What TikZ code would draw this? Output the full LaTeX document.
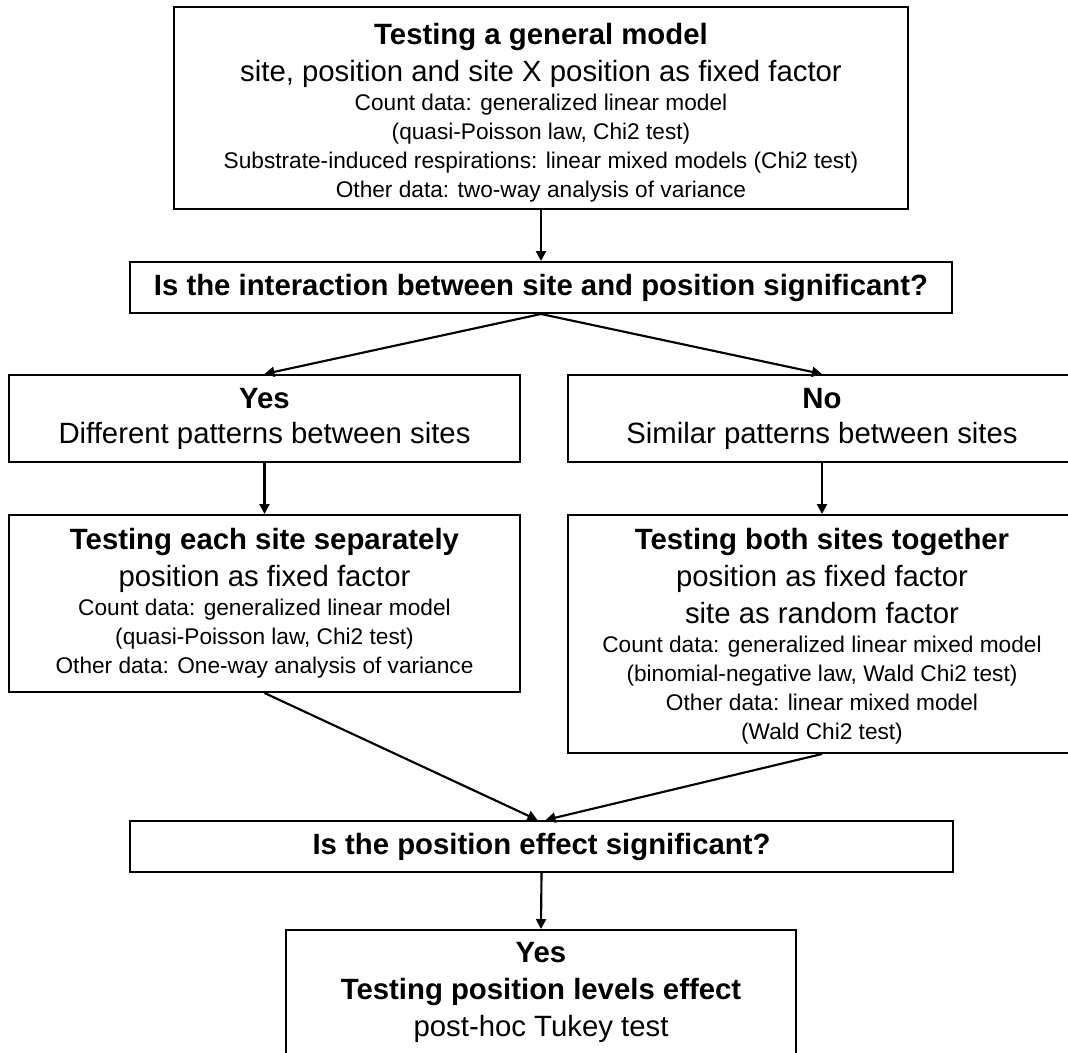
\documentclass[tikz,border=0pt]{standalone}
\usepackage{fontspec}
\setmainfont{Liberation Sans}
\usetikzlibrary{arrows.meta}
\newcommand{\bigbf}[1]{{\fontsize{22}{22}\selectfont\bfseries #1}}
\newcommand{\bigrm}[1]{{\fontsize{22}{22}\selectfont #1}}
\begin{document}
\begin{tikzpicture}[x=0.75pt,y=-0.75pt,
  box/.style={draw, line width=1.5pt, align=center, inner sep=0pt,
    font=\fontsize{17}{21.75}\selectfont},
  arr/.style={line width=1.6pt, -{Triangle[length=7.5pt,width=7.5pt]}}]
\useasboundingbox[fill=white] (0,0) rectangle (1068,1053);

\node[box, minimum width=550.5pt, minimum height=151.5pt] (top) at (541,108)
  {\bigbf{\rule{0pt}{23.5pt}Testing a general model}\\[6pt]
   \bigrm{site, position and site X position as fixed factor}\\
   Count data: generalized linear model\\
   (quasi-Poisson law, Chi2 test)\\
   Substrate-induced respirations: linear mixed models (Chi2 test)\\
   Other data: two-way analysis of variance};

\node[box, minimum width=616.5pt, minimum height=38.25pt] (q1) at (541,287.5)
  {\bigbf{Is the interaction between site and position significant?}};

\node[box, minimum width=383.25pt, minimum height=65.25pt] (yes) at (264.5,418.5)
  {\bigbf{Yes}\\[4.5pt]\bigrm{Different patterns between sites}};

\node[box, minimum width=381pt, minimum height=65.25pt] (no) at (822,418.5)
  {\bigbf{No}\\[4.5pt]\bigrm{Similar patterns between sites}};

\node[box, minimum width=383.25pt, minimum height=132.75pt] (each) at (264.5,603.5)
  {\bigbf{Testing each site separately}\\[6pt]
   \bigrm{position as fixed factor}\\
   Count data: generalized linear model\\
   (quasi-Poisson law, Chi2 test)\\
   Other data: One-way analysis of variance};

\node[box, minimum width=381pt, minimum height=178.5pt] (both) at (822,634)
  {\bigbf{\rule{0pt}{19pt}Testing both sites together}\\[6pt]
   \bigrm{position as fixed factor}\\[6pt]
   \bigrm{site as random factor}\\
   Count data: generalized linear mixed model\\
   (binomial-negative law, Wald Chi2 test)\\
   Other data: linear mixed model\\
   (Wald Chi2 test)};

\node[box, minimum width=617.25pt, minimum height=38.25pt] (q2) at (541.5,846.5)
  {\bigbf{Is the position effect significant?}};

\node[box, minimum width=382.5pt, minimum height=93.75pt] (final) at (541,992.5)
  {\bigbf{Yes}\\[6pt]\bigbf{Testing position levels effect}\\[6pt]\bigrm{post-hoc Tukey test}};

\draw[arr] (top.south) -- (q1.north);
\draw[arr] (q1.south) -- (yes.north);
\draw[arr] (q1.south) -- (no.north);
\draw[arr] (yes.south) -- (each.north);
\draw[arr] (no.south) -- (both.north);
\draw[arr] (each.south) -- ([xshift=-3pt]q2.north);
\draw[arr] (both.south) -- ([xshift=3pt]q2.north);
\draw[arr] (q2.south) -- (final.north);
\end{tikzpicture}
\end{document}
